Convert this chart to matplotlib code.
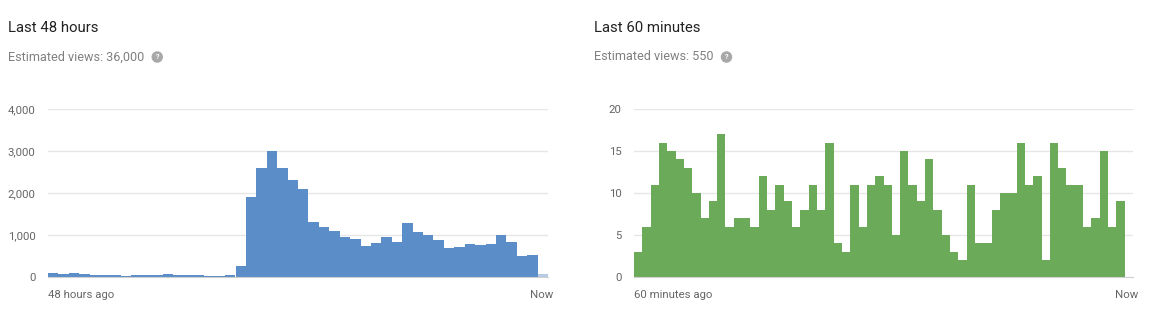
import matplotlib.pyplot as plt
import numpy as np

plt.rcParams['font.family'] = ['Roboto', 'DejaVu Sans']

# hourly views, last 48 hours (last entry = current partial hour)
hours_views = [90, 65, 90, 80, 40, 55, 45, 25, 40, 50, 55, 70, 55, 55, 40, 35,
               20, 40, 270, 1900, 2600, 3000, 2600, 2300, 2100, 1300, 1200,
               1100, 950, 900, 750, 810, 950, 840, 1280, 1080, 990, 870, 700,
               720, 790, 770, 790, 990, 840, 500, 530, 65]
hours_total = '36,000'

# per-minute views, last 60 minutes
minutes_views = [3, 6, 11, 16, 15, 14, 13, 10, 7, 9, 17, 6, 7, 7, 6, 12, 8,
                 11, 9, 6, 8, 11, 8, 16, 4, 3, 11, 6, 11, 12, 11, 5, 15, 11,
                 9, 14, 8, 5, 3, 2, 11, 4, 4, 8, 10, 10, 16, 11, 12, 2, 16,
                 13, 11, 11, 6, 7, 15, 6, 9]
minutes_total = '550'

W, H = 1154, 320
fig = plt.figure(figsize=(W / 100, H / 100), dpi=100)

grid_col = '#e6e6e6'
label_col = '#666666'


def panel(left_px, right_px, values, nslots, ymax, yticks, ylabels, colors,
          start_label, title, total):
    ax = fig.add_axes([left_px / W, (H - 277) / H,
                       (right_px - left_px) / W, 168 / H])
    x = np.arange(len(values))
    ax.bar(x, values, width=1.0, align='edge', color=colors, linewidth=0)
    ax.set_xlim(0, nslots)
    ax.set_ylim(0, ymax)
    ax.set_yticks(yticks)
    ax.set_yticklabels(ylabels)
    ax.set_xticks([])
    ax.tick_params(axis='y', length=0, pad=9, labelsize=8.2, labelcolor=label_col)
    ax.grid(axis='y', color=grid_col, linewidth=1)
    ax.set_axisbelow(True)
    for s in ['top', 'right', 'left']:
        ax.spines[s].set_visible(False)
    ax.spines['bottom'].set_color('#d0d0d0')
    ax.text(0, -0.11, start_label, transform=ax.transAxes, ha='left',
            va='center', fontsize=8.2, color=label_col)
    ax.text(1.01, -0.11, 'Now', transform=ax.transAxes, ha='right',
            va='center', fontsize=8.2, color=label_col)

    tx = (left_px - 40) / W
    fig.text(tx, 1 - 28 / H, title, ha='left', va='center', fontsize=10.7,
             color='#222222')
    t = fig.text(tx, 1 - 57 / H, 'Estimated views: ' + total, ha='left',
                 va='center', fontsize=9.1, color='#808080')
    return ax, t


blue = ['#5b8dc8'] * (len(hours_views) - 1) + ['#b7cbe6']
green = ['#6aaa59'] * len(minutes_views)

ax1, t1 = panel(48, 548, hours_views, 48, 4000, [0, 1000, 2000, 3000, 4000],
                ['0', '1,000', '2,000', '3,000', '4,000'], blue,
                '48 hours ago', 'Last 48 hours', hours_total)
ax2, t2 = panel(634, 1133, minutes_views, 60, 20, [0, 5, 10, 15, 20],
                ['0', '5', '10', '15', '20'], green,
                '60 minutes ago', 'Last 60 minutes', minutes_total)

# help icons next to the totals
fig.canvas.draw()
for t in (t1, t2):
    bb = t.get_window_extent()
    fig.text((bb.x1 + 13) / W, 1 - 57 / H, '?', ha='center', va='center',
             fontsize=5, color='white', fontweight='bold',
             bbox=dict(boxstyle='circle,pad=0.25', fc='#a8a8a8', ec='none'))

fig.savefig('out.png', dpi=100)
